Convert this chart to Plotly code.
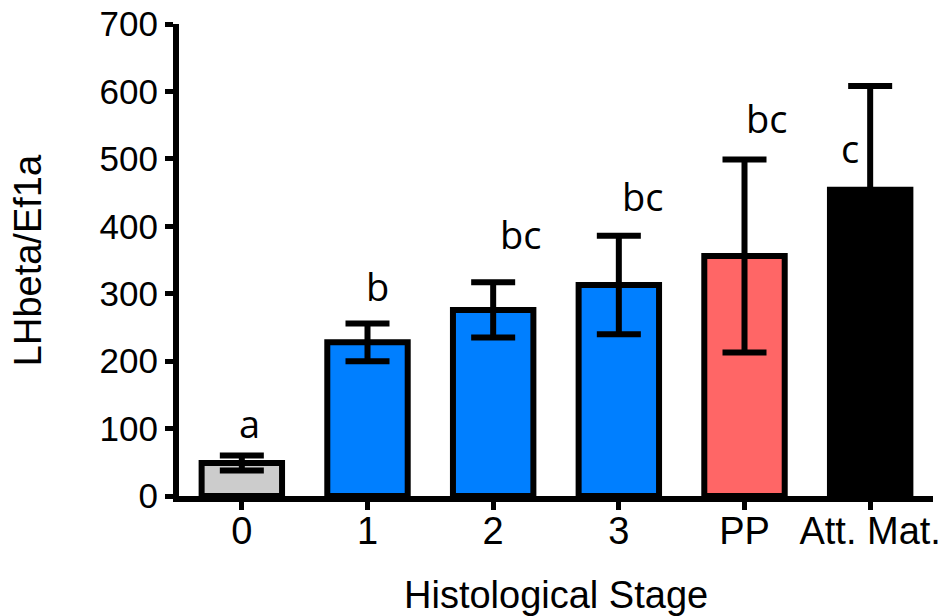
import plotly.graph_objects as go

categories = ["0", "1", "2", "3", "PP", "Att. Mat."]
means = [49, 228, 276, 313, 356, 454]
errors = [11, 28, 41, 73, 143, 154]
colors = ["#CCCCCC", "#007FFF", "#007FFF", "#007FFF", "#FF6666", "#000000"]
letters = ["a", "b", "bc", "bc", "bc", "c"]
letter_y = [108, 312, 389, 445, 561, 516]
letter_shift = [8, 10, 27, 24, 22, -20]
x_title = "Histological Stage"
y_title = "LHbeta/Ef1a"

fig = go.Figure()
fig.add_trace(go.Bar(
    x=categories, y=means,
    marker=dict(color=colors, line=dict(color="black", width=6)),
    width=0.64,
    error_y=dict(type="data", array=errors, visible=True, color="black",
                 thickness=6, width=22),
    showlegend=False,
))

for c, t, yv, s in zip(categories, letters, letter_y, letter_shift):
    fig.add_annotation(x=c, y=yv, text=t, showarrow=False, xshift=s,
                       font=dict(family="Open Sans", size=38, color="black"),
                       yanchor="middle", xanchor="center")

axis_font = dict(family="Liberation Sans", size=38, color="black")
ytick_font = dict(family="Liberation Sans", size=35, color="black")
fig.add_annotation(x=0.5, y=-0.21, xref="paper", yref="paper", text=x_title,
                   showarrow=False, font=axis_font, xanchor="center", yanchor="middle")
fig.add_annotation(x=-0.2, y=0.5, xref="paper", yref="paper", text=y_title,
                   showarrow=False, font=axis_font, textangle=-90,
                   xanchor="center", yanchor="middle")

fig.update_layout(
    width=946, height=616,
    margin=dict(l=179, r=13, t=24, b=120),
    plot_bgcolor="white", paper_bgcolor="white",
    font=axis_font,
    xaxis=dict(type="category", range=[-0.5, 5.5], showline=True, linewidth=6,
               linecolor="black", ticks="outside", ticklen=8, tickwidth=5,
               tickcolor="black", showgrid=False, zeroline=False,
               tickfont=axis_font, automargin=False, ticklabelstandoff=-12),
    yaxis=dict(range=[0, 700], dtick=100, showline=True, linewidth=6,
               linecolor="black", ticks="outside", ticklen=8, tickwidth=5,
               tickcolor="black", showgrid=False, zeroline=False,
               tickfont=ytick_font, automargin=False),
)

fig.write_html("out.html", config={"displayModeBar": False},
               post_script="document.body.style.margin='0px';document.body.style.overflow='hidden';")
